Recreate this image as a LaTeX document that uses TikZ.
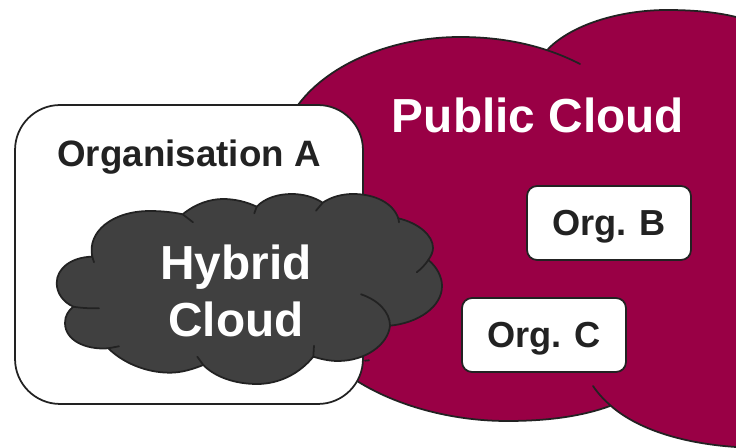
\documentclass[tikz,border=0pt]{standalone}
\usepackage{fontspec}
\setmainfont{Liberation Sans}
\usepackage{pgf,tikz}
\definecolor{publicred}{HTML}{990045}
\definecolor{hybridgrey}{HTML}{404040}
\definecolor{inkblack}{HTML}{222222}
\tikzset{
  outline/.style={draw=inkblack,line width=1pt},
  orgbox/.style={outline,fill=white,text=inkblack,inner sep=0pt,text height=16pt,text depth=1.3pt,font=\bfseries\fontsize{20.6pt}{24pt}\selectfont},
  bigwhite/.style={text=white,align=center,font=\bfseries\fontsize{27.2pt}{32.2pt}\selectfont}
}
\begin{document}
\begin{tikzpicture}[line cap=round,line join=round,x=0.02cm,y=-0.02cm]
		\useasboundingbox (0,0) rectangle (736,448);
		\clip (0,0) rectangle (736,448);
		\fill [publicred] (298,105) -- (548,49) .. controls (575,22) and (625,10) .. (667,10) .. controls (692,10) and (716,12) .. (736,17) -- (736,447) .. controls (690,444) and (640,432) .. (610,406) .. controls (580,417) and (545,421) .. (507,421) .. controls (450,421) and (395,405) .. (357,381) -- cycle;
		\fill [publicred] (298,105) .. controls (330,62) and (395,37) .. (460,37) .. controls (505,37) and (545,46) .. (580,64) -- cycle;
		\draw [outline] (298,105) .. controls (330,62) and (395,37) .. (460,37) .. controls (505,37) and (545,46) .. (580,64);
		\draw [outline] (548,49) .. controls (575,22) and (625,10) .. (667,10) .. controls (692,10) and (716,12) .. (736,17);
		\draw [outline] (357,381) .. controls (395,405) and (450,421) .. (507,421) .. controls (545,421) and (580,417) .. (610,406);
		\draw [outline] (593,386) .. controls (597,392) and (603,399) .. (610,405) .. controls (640,432) and (690,444) .. (736,447);
		\draw [outline] (365,360.7) -- (369,360.3);
		\node [orgbox,minimum width=6.96cm,minimum height=5.98cm,rounded corners=0.9cm] (orgA) at (189,254.5) {};
		\node [text=inkblack,font=\bfseries\fontsize{20.9pt}{24pt}\selectfont] (orgAlabel) at (189,157) {Organisation A};
		\filldraw [outline,fill=hybridgrey] (92.3,256.7) .. controls (87,232) and (112,211) .. (150,211) .. controls (160,211) and (172,212) .. (182.7,214.3)
			.. controls (195,204) and (210,199) .. (223,199) .. controls (235,199) and (247,202) .. (256.7,206.7)
			.. controls (265,198) and (278,194) .. (291.7,194) .. controls (303,194) and (314,197) .. (322.7,202.7)
			.. controls (331,197) and (342,194) .. (353,194) .. controls (375,194) and (393,203) .. (398.3,218.3)
			.. controls (418,223) and (433,235) .. (433,248) .. controls (433,252) and (431,256) .. (428.3,260)
			.. controls (437,267) and (442,277) .. (442,286) .. controls (442,307) and (418,323) .. (390,325.7)
			.. controls (388,345) and (365,361) .. (338,361) .. controls (329,361) and (321,359) .. (313.3,356.7)
			.. controls (300,373) and (280,384) .. (257,384) .. controls (235,384) and (215,377) .. (203.3,365)
			.. controls (193,369) and (182,372.7) .. (170,372.7) .. controls (145,372.7) and (122,362) .. (108.3,348.3)
			.. controls (85,350) and (65,340) .. (65,323) .. controls (65,316) and (68,311) .. (73.3,306.7)
			.. controls (63,302) and (56.7,293) .. (56.7,283) .. controls (56.7,268) and (72,257) .. (92.3,256.7) -- cycle;
		\draw [outline] (92.3,256.7) -- (94,262.3);
		\draw [outline] (182.7,214.3) -- (193,222.3);
		\draw [outline] (256.7,206.7) -- (254.3,213.3);
		\draw [outline] (322.7,202.7) -- (316,210.7);
		\draw [outline] (398.3,218.3) -- (399,222.3);
		\draw [outline] (428.3,260) .. controls (425,265) and (421,269) .. (416.7,272.3);
		\draw [outline] (361,294.3) .. controls (378,300) and (390,312) .. (390,325.7);
		\draw [outline] (313.3,356.7) -- (314,345.7);
		\draw [outline] (203.3,365) -- (197.3,356.7);
		\draw [outline] (108.3,348.3) -- (119,346.3);
		\draw [outline] (73.3,306.7) .. controls (81,308) and (90,308.5) .. (99,308.3);
		\node [bigwhite] (hybrid) at (236,291) {Hybrid\\Cloud};
		\node [bigwhite] (public) at (538,115) {Public Cloud};
		\node [orgbox,minimum width=3.28cm,minimum height=1.48cm,rounded corners=0.2cm] (orgB) at (609,223) {Org. B};
		\node [orgbox,minimum width=3.28cm,minimum height=1.48cm,rounded corners=0.2cm] (orgC) at (544,335) {Org. C};
		\end{tikzpicture}
\end{document}
